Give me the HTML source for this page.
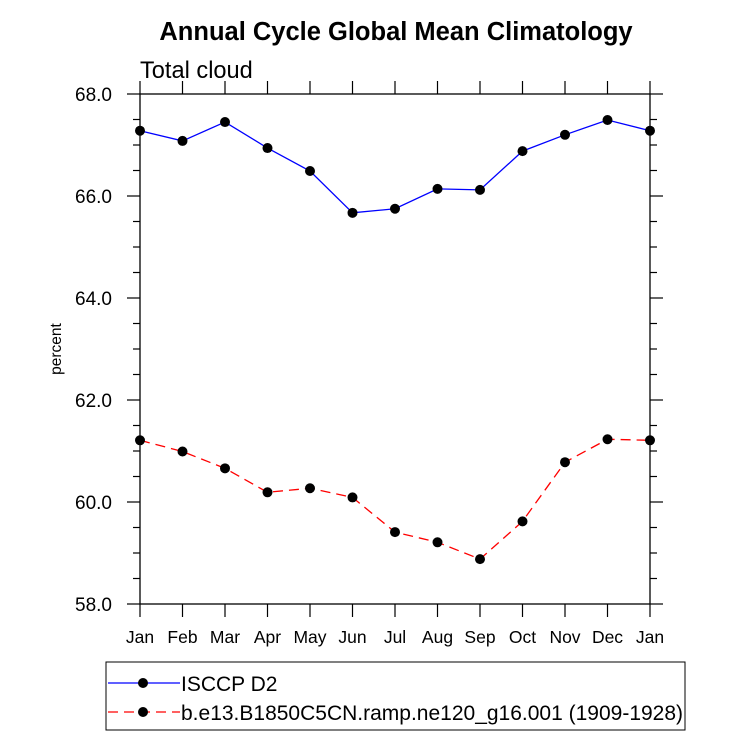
<!DOCTYPE html>
<html><head><meta charset="utf-8"><style>
body{margin:0;background:#fff;}
svg text{font-family:"Liberation Sans",Arial,sans-serif;}
</style></head><body>
<svg id="chart" width="733" height="737" viewBox="0 0 733 737" xmlns="http://www.w3.org/2000/svg">
<text x="396" y="40" text-anchor="middle" font-size="25.5" font-weight="bold">Annual Cycle Global Mean Climatology</text>
<text x="140" y="78" font-size="23.6">Total cloud</text>
<text transform="translate(61,349) rotate(-90)" text-anchor="middle" font-size="15.5">percent</text>
<g id="axes"></g>
<g id="series"></g>
<g id="legend">
<rect x="106" y="662" width="579" height="68" fill="none" stroke="#000" stroke-width="1"/>
<g>
<line x1="108" y1="683" x2="180" y2="683" stroke="#00f" stroke-width="1.3"/>
<circle cx="143" cy="683" r="5" fill="#000"/>
<text x="181" y="691" font-size="21">ISCCP D2</text></g>
<g>
<line x1="108" y1="712" x2="180" y2="712" stroke="#f00" stroke-width="1.3" stroke-dasharray="10,6"/>
<circle cx="143" cy="712" r="5" fill="#000"/>
<text x="181" y="720" font-size="21">b.e13.B1850C5CN.ramp.ne120_g16.001 (1909-1928)</text></g>
</g>
</svg>
<script>
const months=["Jan","Feb","Mar","Apr","May","Jun","Jul","Aug","Sep","Oct","Nov","Dec","Jan"];
const isccp=[67.28,67.08,67.45,66.94,66.49,65.67,65.75,66.14,66.12,66.88,67.20,67.49,67.28];
const model=[61.21,60.99,60.66,60.19,60.27,60.09,59.41,59.21,58.88,59.62,60.78,61.23,61.21];
const yTicks=["58.0","60.0","62.0","64.0","66.0","68.0"];
const NS="http://www.w3.org/2000/svg";
const L=140,R=650,T=94,B=604,ymin=58,ymax=68;
const xs=i=>L+(R-L)*i/(months.length-1);
const ys=v=>B-(B-T)*(v-ymin)/(ymax-ymin);
function mk(tag,attrs,parent){const e=document.createElementNS(NS,tag);for(const k in attrs)e.setAttribute(k,attrs[k]);parent.appendChild(e);return e;}
const ax=document.getElementById('axes');
const frame=mk('rect',{x:L,y:T,width:R-L,height:B-T,fill:'none',stroke:'#000','stroke-width':1.3},ax);


for(let v=ymin;v<=ymax+1e-9;v+=0.5){
 const y=ys(v);const major=Math.abs(v/2-Math.round(v/2))<1e-6;const len=major?13:7;
 mk('line',{x1:L-len,y1:y,x2:L,y2:y,stroke:'#000','stroke-width':1.2},ax);
 mk('line',{x1:R,y1:y,x2:R+len,y2:y,stroke:'#000','stroke-width':1.2},ax);
}
yTicks.forEach(t=>{const tx=mk('text',{x:L-28,y:ys(parseFloat(t))+7,'text-anchor':'end','font-size':19},ax);tx.textContent=t;
 
 });
months.forEach((m,i)=>{const x=xs(i);
 mk('line',{x1:x,y1:B,x2:x,y2:B+13,stroke:'#000','stroke-width':1.2},ax);
 mk('line',{x1:x,y1:T-13,x2:x,y2:T,stroke:'#000','stroke-width':1.2},ax);
 const tx=mk('text',{x:x,y:643,'text-anchor':'middle','font-size':17.5},ax);tx.textContent=m;
 
 });
const sg=document.getElementById('series');
function draw(vals,color,dash,name){
 const g=mk('g',{},sg);
 
 
 const pts=vals.map((v,i)=>xs(i)+','+ys(v)).join(' ');
 const pl=mk('polyline',{points:pts,fill:'none',stroke:color,'stroke-width':1.3},g);
 if(dash)pl.setAttribute('stroke-dasharray',dash);
 vals.forEach((v,i)=>{const c=mk('circle',{cx:xs(i),cy:ys(v),r:5,fill:'#000'},g);
  
  });
}
draw(isccp,'#00f',null,'series-isccp');
draw(model,'#f00','10,6','series-model');
</script>
</body></html>
